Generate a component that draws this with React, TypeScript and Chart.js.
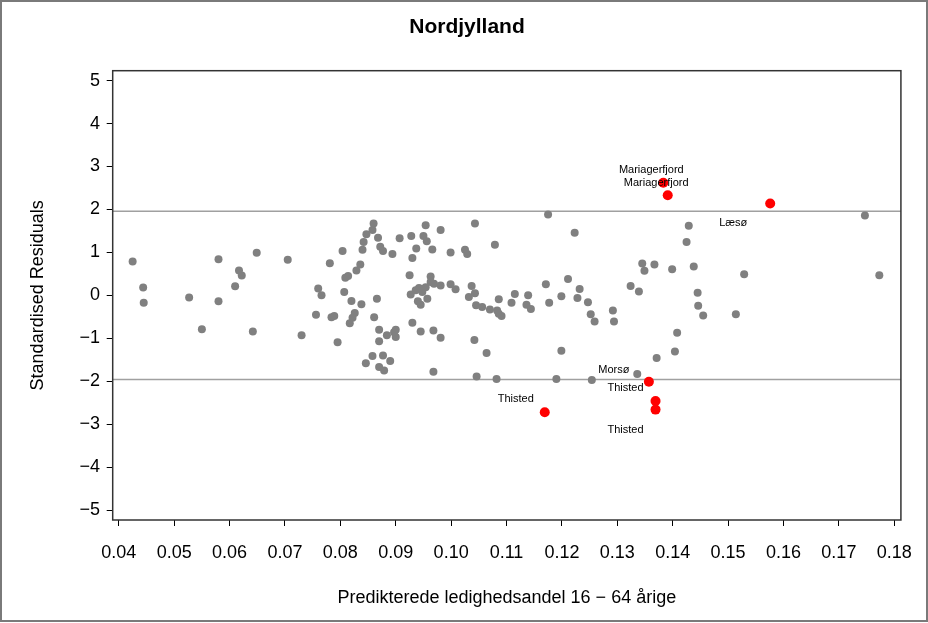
import React, { useEffect, useRef } from 'react';
import { Chart, registerables } from 'chart.js';

Chart.register(...registerables);

// Grey points: predicted unemployment share (x) and standardised residual (y)
const grayX = [
  0.0425, 0.0444, 0.0445, 0.0527, 0.0550, 0.0580, 0.0580, 0.0610, 0.0617, 0.0622,
  0.0642, 0.0649, 0.0705, 0.0730, 0.0760, 0.0766, 0.0756, 0.0781, 0.0784, 0.0789,
  0.0795, 0.0804, 0.0807, 0.0809, 0.0814, 0.0820, 0.0817, 0.0822, 0.0826, 0.0829,
  0.0836, 0.0838, 0.0840, 0.0842, 0.0847, 0.0858, 0.0860, 0.0868, 0.0872, 0.0877,
  0.0894, 0.0907, 0.0928, 0.0954, 0.0950, 0.0956, 0.0937, 0.0966, 0.0981, 0.1043,
  0.0999, 0.1025, 0.1029, 0.0930, 0.1079, 0.1175, 0.1223, 0.0861, 0.0866, 0.0846,
  0.0858, 0.0877, 0.0890, 0.0870, 0.0879, 0.0870, 0.0870, 0.0884, 0.0900, 0.0900,
  0.0897, 0.0930, 0.0945, 0.0968, 0.0981, 0.0968, 0.1042, 0.1046, 0.1064, 0.1082,
  0.0925, 0.0963, 0.0942, 0.0954, 0.0963, 0.0969, 0.0936, 0.0927, 0.0948, 0.0981,
  0.0999, 0.1008, 0.1037, 0.1043, 0.1032, 0.0940, 0.0945, 0.0957, 0.1045, 0.1056,
  0.1070, 0.1083, 0.1086, 0.1091, 0.1086, 0.1109, 0.1115, 0.1139, 0.1136, 0.1144,
  0.1171, 0.1177, 0.1199, 0.1211, 0.1232, 0.1228, 0.1247, 0.1252, 0.1259, 0.1292,
  0.1294, 0.1199, 0.1190, 0.1254, 0.1324, 0.1339, 0.1345, 0.1367, 0.1349, 0.1399,
  0.1438, 0.1529, 0.1773, 0.1445, 0.1446, 0.1455, 0.1514, 0.1408, 0.1404, 0.1371,
  0.1336, 0.1425, 0.1429, 0.1747,
];
const grayY = [
  0.79, 0.18, -0.17, -0.05, -0.79, 0.84, -0.14, 0.21, 0.58, 0.46,
  -0.84, 0.99, 0.83, -0.93, 0.16, 0.0, -0.45, 0.75, -0.51, -0.48,
  -1.09, 1.03, 0.08, 0.41, 0.45, -0.13, -0.65, -0.52, -0.41, 0.58,
  0.72, -0.21, 1.06, 1.24, 1.42, 1.52, 1.67, 1.34, 1.13, 1.03,
  0.96, 1.33, 1.38, 1.63, 1.38, 1.26, 1.09, 1.07, 1.52, 1.67,
  1.0, 1.06, 0.96, 0.87, 1.18, 1.88, 1.46, -0.51, -0.08, -1.58,
  -1.41, -1.4, -1.53, -1.67, -1.75, -0.8, -1.07, -0.93, -0.8, -0.97,
  -0.86, -0.64, -0.84, -0.82, -0.99, -1.78, -1.04, -1.89, -1.34, -1.95,
  0.47, 0.44, 0.17, 0.19, 0.31, 0.27, 0.12, 0.02, 0.08, 0.23,
  0.26, 0.14, 0.22, 0.05, -0.04, -0.14, -0.22, -0.08, -0.23, -0.27,
  -0.33, -0.35, -0.43, -0.48, -0.09, -0.17, 0.03, 0.0, -0.22, -0.32,
  0.26, -0.17, -0.02, 0.38, 0.15, -0.06, -0.16, -0.44, -0.61, -0.35,
  -0.61, -1.29, -1.95, -1.97, 0.22, 0.09, 0.74, 0.72, 0.57, 0.61,
  0.67, 0.49, 0.47, 0.06, -0.24, -0.47, -0.44, -0.87, -1.31, -1.46,
  -1.83, 1.24, 1.62, 1.86,
];

// Outlying municipalities (red, labelled)
const redNames = ['Mariagerfjord', 'Mariagerfjord', 'Læsø', 'Thisted', 'Morsø', 'Thisted', 'Thisted'];
const redX = [0.1383, 0.1391, 0.1576, 0.1169, 0.1357, 0.1369, 0.1369];
const redY = [2.62, 2.33, 2.14, -2.72, -2.01, -2.46, -2.66];

// Reference lines and axis ranges
const refLines = [-1.96, 1.96];
const xMin = 0.0389;
const xMax = 0.1812;
const yMin = -5.23;
const yMax = 5.23;

const titleText = 'Nordjylland';
const xTitle = 'Predikterede ledighedsandel 16 − 64 årige';
const yTitle = 'Standardised Residuals';

// Label placement (pixel offsets from each red point) — styling only
const labelOffsets: [number, number][] = [
  [-12, -13], [-11.5, -12.7], [-37, 20], [-29, -13], [-35, -12], [-30, -13], [-30, 20],
];

const FONT = "'Liberation Sans', Arial, Helvetica, sans-serif";

const decorPlugin = {
  id: 'decor',
  beforeDraw(chart: any) {
    const ctx = chart.ctx;
    ctx.save();
    ctx.fillStyle = '#ffffff';
    ctx.fillRect(0, 0, chart.width, chart.height);
    ctx.strokeStyle = '#7a7a7a';
    ctx.lineWidth = 2;
    ctx.strokeRect(1, 1, chart.width - 2, chart.height - 3);
    ctx.fillStyle = '#000000';
    ctx.font = `bold 21px ${FONT}`;
    ctx.textAlign = 'center';
    ctx.textBaseline = 'middle';
    ctx.fillText(titleText, chart.width / 2 + 3, 27);
    ctx.restore();
  },
  beforeDatasetsDraw(chart: any) {
    const ctx = chart.ctx;
    const { left, right, top, bottom } = chart.chartArea;
    const ys = chart.scales.y;
    ctx.save();
    ctx.strokeStyle = '#a0a0a0';
    ctx.lineWidth = 1.5;
    refLines.forEach((v) => {
      const py = ys.getPixelForValue(v);
      ctx.beginPath();
      ctx.moveTo(left, py);
      ctx.lineTo(right, py);
      ctx.stroke();
    });
    ctx.strokeStyle = '#333333';
    ctx.lineWidth = 1.5;
    ctx.strokeRect(left, top, right - left, bottom - top);
    ctx.restore();
  },
  afterDatasetsDraw(chart: any) {
    const ctx = chart.ctx;
    const meta = chart.getDatasetMeta(1);
    ctx.save();
    ctx.fillStyle = '#000000';
    ctx.font = `11px ${FONT}`;
    ctx.textAlign = 'center';
    ctx.textBaseline = 'middle';
    meta.data.forEach((el: any, i: number) => {
      const [dx, dy] = labelOffsets[i];
      ctx.fillText(redNames[i], el.x + dx, el.y + dy);
    });
    ctx.restore();
  },
};

export default function App() {
  const ref = useRef<HTMLCanvasElement>(null);
  useEffect(() => {
    document.body.style.margin = '0';
    const canvas = ref.current!;
    const chart = new Chart(canvas, {
      type: 'scatter',
      data: {
        datasets: [
          {
            data: grayX.map((x, i) => ({ x, y: grayY[i] })),
            backgroundColor: '#808080',
            borderWidth: 0,
            pointRadius: 4,
            pointHoverRadius: 4,
          },
          {
            data: redX.map((x, i) => ({ x, y: redY[i] })),
            backgroundColor: '#ff0000',
            borderWidth: 0,
            pointRadius: 5,
            pointHoverRadius: 5,
          },
        ],
      },
      options: {
        animation: false,
        responsive: false,
        devicePixelRatio: 1,
        events: [],
        layout: { padding: { left: 0, right: 25.3, top: 70.7, bottom: 0 } },
        plugins: {
          legend: { display: false },
          tooltip: { enabled: false },
          title: { display: false },
        },
        scales: {
          x: {
            type: 'linear',
            position: 'bottom',
            min: xMin,
            max: xMax,
            afterFit: (s: any) => { s.height = 103; },
            ticks: {
              stepSize: 0.01,
              includeBounds: false,
              autoSkip: false,
              maxRotation: 0,
              color: '#000000',
              font: { family: FONT, size: 18 },
              padding: 16,
              callback: (v: any) => Number(v).toFixed(2),
            },
            grid: { drawOnChartArea: false, drawTicks: true, tickLength: 6, color: '#000000', lineWidth: 1 },
            border: { display: false },
            title: {
              display: true,
              text: xTitle,
              color: '#000000',
              font: { family: FONT, size: 18 },
              padding: { top: 0, bottom: 14 },
            },
          },
          y: {
            type: 'linear',
            min: yMin,
            max: yMax,
            afterFit: (s: any) => { s.width = 112.7; },
            ticks: {
              stepSize: 1,
              includeBounds: false,
              color: '#000000',
              font: { family: FONT, size: 18 },
              padding: 6.7,
              callback: (v: any) => (Number(v) < 0 ? '−' + Math.abs(Number(v)) : String(v)),
            },
            grid: { drawOnChartArea: false, drawTicks: true, tickLength: 6, color: '#000000', lineWidth: 1 },
            border: { display: false },
            title: {
              display: true,
              text: yTitle,
              color: '#000000',
              font: { family: FONT, size: 18 },
              padding: { top: 27, bottom: 0 },
            },
          },
        },
      },
      plugins: [decorPlugin],
    });
    return () => chart.destroy();
  }, []);
  return (
    <div style={{ width: 928, height: 623 }}>
      <canvas ref={ref} width={928} height={623} />
    </div>
  );
}
